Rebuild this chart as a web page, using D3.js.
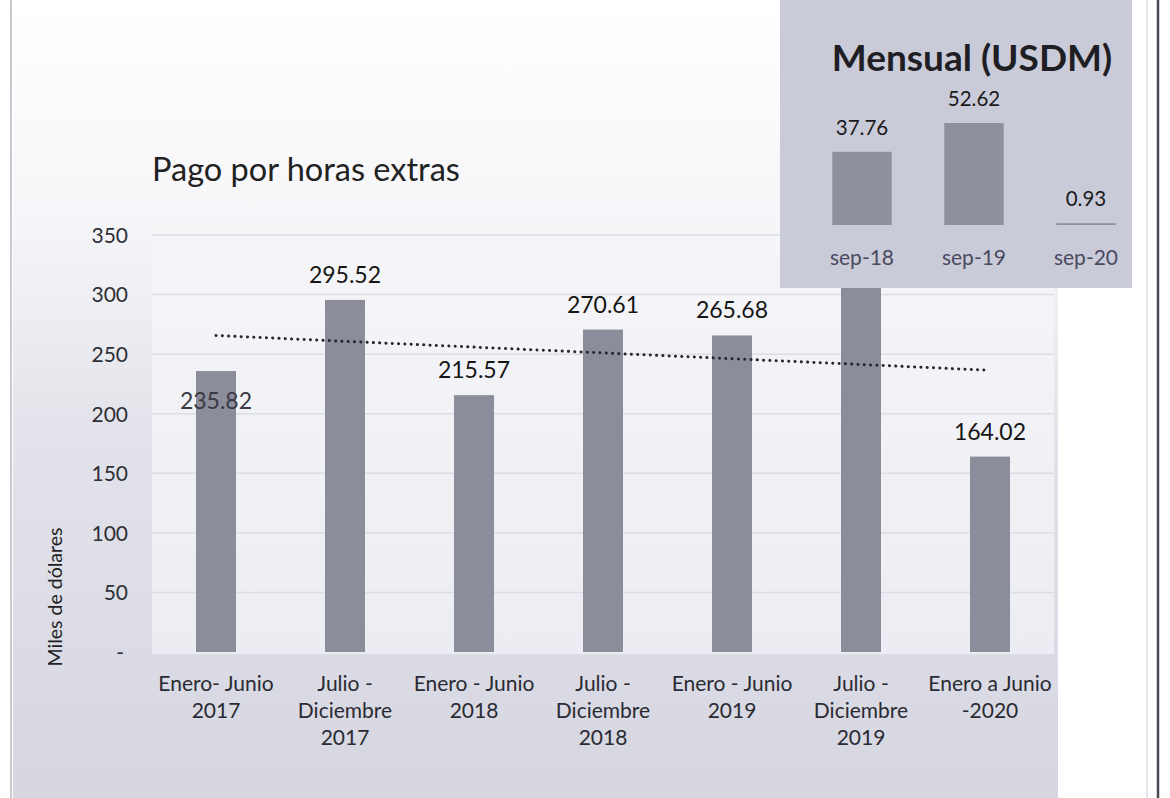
<!DOCTYPE html>
<html><head><meta charset="utf-8">
<script src="https://cdn.jsdelivr.net/npm/d3@7"></script>
<style>html,body{margin:0;padding:0;background:#fff;}svg{display:block;}</style>
</head><body>
<script>
// ---- data ----
const categories = ["Enero- Junio|2017","Julio -|Diciembre|2017","Enero - Junio|2018","Julio -|Diciembre|2018","Enero - Junio|2019","Julio -|Diciembre|2019","Enero a Junio|-2020"];
const values = [235.82, 295.52, 215.57, 270.61, 265.68, 310, 164.02];
const valueLabels = ["235.82","295.52","215.57","270.61","265.68","","164.02"];
const yTicks = [0, 50, 100, 150, 200, 250, 300, 350];
const yTickLabels = ["-", "50", "100", "150", "200", "250", "300", "350"];
const insetCategories = ["sep-18","sep-19","sep-20"];
const insetValues = [37.76, 52.62, 0.93];
const mainTitle = "Pago por horas extras";
const insetTitle = "Mensual (USDM)";
const yTitle = "Miles de dólares";

const W = 1170, H = 798;
const FONT = "Lato, 'Open Sans', sans-serif";
const svg = d3.select("body").append("svg").attr("width", W).attr("height", H);
const defs = svg.append("defs");
const g1 = defs.append("linearGradient").attr("id","bg").attr("x1",0).attr("y1",0).attr("x2",0).attr("y2",1);
g1.append("stop").attr("offset","0%").attr("stop-color","#ffffff");
g1.append("stop").attr("offset","25%").attr("stop-color","#f7f7fa");
g1.append("stop").attr("offset","55%").attr("stop-color","#e2e3ea");
g1.append("stop").attr("offset","100%").attr("stop-color","#d5d6e0");
const g2 = defs.append("linearGradient").attr("id","pa").attr("x1",0).attr("y1",0).attr("x2",0).attr("y2",1);
g2.append("stop").attr("offset","0%").attr("stop-color","#f6f6f9");
g2.append("stop").attr("offset","100%").attr("stop-color","#ecedf2");

// page frame
svg.append("rect").attr("x",13).attr("y",0).attr("width",1045).attr("height",H).attr("fill","url(#bg)");
svg.append("line").attr("x1",11).attr("x2",11).attr("y1",0).attr("y2",H).attr("stroke","#c9c9d2").attr("stroke-width",2);
svg.append("line").attr("x1",1147).attr("x2",1147).attr("y1",0).attr("y2",H).attr("stroke","#e4e4ea").attr("stroke-width",2);
svg.append("line").attr("x1",1158).attr("x2",1158).attr("y1",0).attr("y2",H).attr("stroke","#4a4a55").attr("stroke-width",2.5);

// scales
const x = d3.scaleBand().domain(categories).range([151.5, 1054.5]).paddingInner(0.69).paddingOuter(0.345);
const y = d3.scaleLinear().domain([0, 350]).range([652, 235]);

// plot area
svg.append("rect").attr("x",152).attr("y",222).attr("width",902).attr("height",652-222+2).attr("fill","url(#pa)");

// gridlines
svg.append("g").selectAll("line").data(yTicks.slice(1)).join("line")
  .attr("x1",152).attr("x2",1054).attr("y1",d=>y(d)).attr("y2",d=>y(d))
  .attr("stroke","#dcdde6").attr("stroke-width",1.5);

// y axis labels
const yAxis = d3.axisLeft(y).tickValues(yTicks).tickSize(0).tickPadding(0)
  .tickFormat((d,i)=>yTickLabels[i]);
const ya = svg.append("g").attr("transform","translate(128,0)").call(yAxis);
ya.select(".domain").remove();
ya.selectAll("text").attr("font-family",FONT).attr("font-size",21).attr("fill","#2e2e36").attr("dy","0.35em")
  .attr("dx",(d)=>d===0?-4:0);

// y title
svg.append("text").attr("transform","translate(62,597) rotate(-90)").attr("text-anchor","middle")
  .attr("font-family",FONT).attr("font-size",19.5).attr("fill","#1e1e24").text(yTitle);

// main title
svg.append("text").attr("x",152).attr("y",181).attr("font-family",FONT).attr("font-size",32.5)
  .attr("fill","#222").text(mainTitle);

// bars
svg.append("g").selectAll("rect").data(values).join("rect")
  .attr("x",(d,i)=>x(categories[i])).attr("width",x.bandwidth())
  .attr("y",d=>y(d)).attr("height",d=>y(0)-y(d)).attr("fill","#8b8d9b");

// trend line (least squares of the series)
const n = values.length, xs = d3.range(n);
const mx = d3.mean(xs), my = d3.mean(values);
const slope = d3.sum(xs, i => (i-mx)*(values[i]-my)) / d3.sum(xs, i => (i-mx)*(i-mx));
const icpt = my - slope*mx;
const cx = i => x(categories[i]) + x.bandwidth()/2;
svg.append("path").attr("d", d3.line()([[cx(0), y(icpt)], [cx(n-1), y(icpt + slope*(n-1))]]))
  .attr("stroke","#26262e").attr("stroke-width",3).attr("stroke-dasharray","0.1,6.2")
  .attr("stroke-linecap","round").attr("fill","none");

// value labels
svg.append("g").selectAll("text").data(values).join("text")
  .attr("x",(d,i)=>cx(i))
  .attr("y",(d,i)=> i===0 ? y(d)+38 : y(d)-17)
  .attr("text-anchor","middle").attr("font-family",FONT).attr("font-size",23)
  .attr("fill",(d,i)=> i===0 ? "#3a3a44" : "#151515")
  .text((d,i)=>valueLabels[i]);

// x labels
const xl = svg.append("g").selectAll("text").data(categories).join("text")
  .attr("text-anchor","middle").attr("font-family",FONT).attr("font-size",21).attr("fill","#2a2a33");
xl.each(function(d,i){
  const t = d3.select(this);
  d.split("|").forEach((line,k)=>{
    t.append("tspan").attr("x",cx(i)).attr("y",691 + k*27).text(line);
  });
});

// ---- inset ----
const ix = d3.scaleBand().domain(insetCategories).range([806, 1142]).paddingInner(0.47).paddingOuter(0.235);
const iy = d3.scaleLinear().domain([0, 52.62]).range([225, 123]);
svg.append("rect").attr("x",780).attr("y",0).attr("width",352).attr("height",288).attr("fill","#cacbd8");
svg.append("text").attr("x",972).attr("y",71).attr("text-anchor","middle").attr("font-family",FONT)
  .attr("font-weight","bold").attr("font-size",37).attr("fill","#1e1e24").text(insetTitle);
svg.append("g").selectAll("rect").data(insetValues).join("rect")
  .attr("x",(d,i)=>ix(insetCategories[i])).attr("width",ix.bandwidth())
  .attr("y",d=>iy(d)).attr("height",d=>iy(0)-iy(d)).attr("fill","#8e909e");
svg.append("g").selectAll("text").data(insetValues).join("text")
  .attr("x",(d,i)=>ix(insetCategories[i])+ix.bandwidth()/2).attr("y",d=>iy(d)-17)
  .attr("text-anchor","middle").attr("font-family",FONT).attr("font-size",20.5).attr("fill","#1a1a1a")
  .text(d=>d.toFixed(2));
svg.append("g").selectAll("text").data(insetCategories).join("text")
  .attr("x",d=>ix(d)+ix.bandwidth()/2).attr("y",265)
  .attr("text-anchor","middle").attr("font-family",FONT).attr("font-size",21).attr("fill","#4a4a60")
  .text(d=>d);
</script>
</body></html>
